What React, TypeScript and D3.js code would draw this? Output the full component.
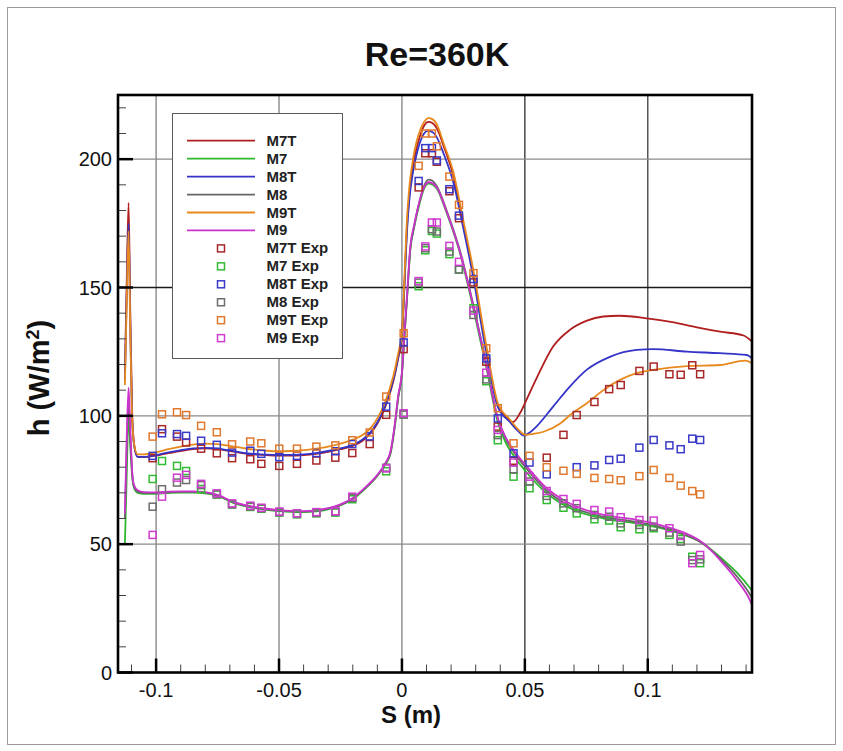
import React from "react";
import * as d3 from "d3";

type P = [number, number];

// ---------- computed curves (S in m, h in W/m^2) ----------
const M7T_LINE: P[] = [
  [-0.1127, 117], [-0.112, 150], [-0.1112, 183], [-0.1105, 140], [-0.1097, 100], [-0.1088, 88], [-0.1075, 84], [-0.105, 84],
  [-0.1, 84.5], [-0.095, 85.5], [-0.09, 86.3], [-0.085, 87], [-0.08, 87.3], [-0.075, 87], [-0.07, 86.3], [-0.065, 85.5],
  [-0.06, 85], [-0.055, 84.7], [-0.05, 84.5], [-0.045, 84.5], [-0.04, 84.7], [-0.035, 85.2], [-0.03, 86], [-0.025, 87],
  [-0.02, 88.3], [-0.016, 90.3], [-0.0125, 93.5], [-0.01, 97], [-0.0068, 103.5], [-0.0035, 113.5], [-0.0015, 122.5], [0, 130.5],
  [0.001, 151], [0.002, 173], [0.003, 186], [0.0045, 197.5], [0.006, 204.5], [0.0075, 209.5], [0.009, 213], [0.0108, 214.5],
  [0.0125, 214], [0.0142, 212], [0.017, 205], [0.0209, 193.5], [0.025, 174.5], [0.0291, 155], [0.0343, 126], [0.039, 104],
  [0.0425, 99.5], [0.0452, 97.6], [0.048, 101], [0.0515, 108], [0.0547, 114.5], [0.0615, 127], [0.0683, 133.5], [0.075, 137],
  [0.0819, 138.7], [0.0886, 139], [0.0996, 138], [0.11, 136.5], [0.12, 134.5], [0.1294, 132.8], [0.139, 131.3], [0.1424, 128.9],
];
const M7_LINE: P[] = [
  [-0.1127, 50], [-0.112, 75], [-0.1112, 100], [-0.1105, 88], [-0.1097, 76], [-0.109, 72], [-0.1075, 70], [-0.105, 69.6],
  [-0.1, 69.6], [-0.095, 69.9], [-0.09, 70.1], [-0.085, 70.1], [-0.08, 69.8], [-0.075, 68.8], [-0.0686, 66.1], [-0.0617, 64.4],
  [-0.055, 63.4], [-0.05, 62.9], [-0.045, 62.6], [-0.04, 62.5], [-0.035, 62.8], [-0.03, 63.6], [-0.025, 65.1], [-0.02, 67.6],
  [-0.015, 71.6], [-0.01, 76.6], [-0.0068, 81], [-0.0047, 85], [-0.003, 95], [-0.0015, 107], [0, 116], [0.001, 130.5],
  [0.002, 144.5], [0.0034, 164.5], [0.005, 173.5], [0.0074, 183.5], [0.009, 188.5], [0.0108, 190.5], [0.0125, 190], [0.0142, 188.5],
  [0.018, 179.5], [0.0237, 163], [0.0291, 141.5], [0.0345, 118], [0.039, 97.5], [0.042, 90], [0.0454, 84.5], [0.0502, 78.5],
  [0.0589, 69.8], [0.0657, 65.4], [0.0711, 62.9], [0.0822, 60], [0.0957, 58], [0.1024, 56.8], [0.1119, 54.5], [0.1227, 50.2],
  [0.1294, 45], [0.1362, 39], [0.1415, 33], [0.1424, 31.8],
];
const M8T_LINE: P[] = [
  [-0.1127, 114], [-0.112, 145], [-0.1112, 175], [-0.1105, 135], [-0.1097, 98], [-0.1088, 87.5], [-0.1075, 84], [-0.105, 84],
  [-0.1, 84.7], [-0.095, 85.8], [-0.09, 86.6], [-0.085, 87.3], [-0.08, 87.5], [-0.075, 87.2], [-0.07, 86.5], [-0.065, 85.7],
  [-0.06, 85.2], [-0.055, 84.9], [-0.05, 84.8], [-0.045, 84.8], [-0.04, 85], [-0.035, 85.5], [-0.03, 86.3], [-0.025, 87.3],
  [-0.02, 88.7], [-0.016, 90.8], [-0.0125, 94], [-0.01, 97.5], [-0.0068, 104], [-0.0035, 114], [-0.0015, 123], [0, 131],
  [0.001, 150], [0.002, 171], [0.003, 184], [0.0045, 195], [0.006, 202], [0.0075, 207], [0.009, 210], [0.0105, 211],
  [0.0125, 210.5], [0.0142, 208.5], [0.017, 202], [0.0209, 191], [0.025, 173], [0.0291, 153.5], [0.0343, 124.5], [0.039, 103.5],
  [0.044, 97.5], [0.047, 94.3], [0.0495, 92.3], [0.052, 93.5], [0.0547, 95.8], [0.0615, 103.6], [0.0683, 111.4], [0.0751, 117.9],
  [0.0846, 123], [0.0955, 125.7], [0.1023, 126], [0.116, 125], [0.1294, 124.4], [0.1403, 123.7], [0.1424, 122.4],
];
const M8_LINE: P[] = [
  [-0.1127, 60], [-0.112, 86], [-0.1112, 106], [-0.1105, 92], [-0.1097, 77], [-0.109, 72.5], [-0.1075, 70.5], [-0.105, 70],
  [-0.1, 69.9], [-0.095, 70.2], [-0.09, 70.4], [-0.085, 70.4], [-0.08, 70.1], [-0.075, 69], [-0.0686, 66.3], [-0.0617, 64.6],
  [-0.055, 63.6], [-0.05, 63.1], [-0.045, 62.8], [-0.04, 62.7], [-0.035, 63], [-0.03, 63.8], [-0.025, 65.3], [-0.02, 67.8],
  [-0.015, 71.8], [-0.01, 76.8], [-0.0068, 81.3], [-0.0047, 85.5], [-0.003, 95.5], [-0.0015, 107.5], [0, 116.5], [0.001, 131],
  [0.002, 145], [0.0034, 165], [0.005, 174], [0.0074, 184.5], [0.009, 189.5], [0.0108, 192], [0.0125, 191.5], [0.0142, 189.5],
  [0.018, 180.5], [0.0237, 164], [0.0291, 143], [0.0345, 119.5], [0.039, 99], [0.042, 91.5], [0.0454, 86], [0.0502, 80],
  [0.0589, 70.8], [0.0657, 66.2], [0.0711, 63.7], [0.0822, 60.6], [0.0957, 58.6], [0.1024, 57.3], [0.1119, 54.8], [0.1227, 50],
  [0.1294, 44.5], [0.1362, 37.5], [0.1415, 30.5], [0.1424, 29],
];
const M9T_LINE: P[] = [
  [-0.1127, 112], [-0.112, 142], [-0.1112, 172], [-0.1105, 133], [-0.1097, 98], [-0.1088, 88], [-0.1075, 85], [-0.105, 85],
  [-0.1, 85.8], [-0.095, 87], [-0.09, 88], [-0.085, 88.8], [-0.08, 89.2], [-0.075, 89], [-0.07, 88.3], [-0.065, 87.5],
  [-0.06, 86.8], [-0.055, 86.4], [-0.05, 86.2], [-0.045, 86.3], [-0.04, 86.6], [-0.035, 87.2], [-0.03, 88], [-0.025, 89.2],
  [-0.02, 90.7], [-0.016, 92.5], [-0.0125, 95.5], [-0.01, 99], [-0.0068, 105.5], [-0.0035, 115.5], [-0.0015, 124.5], [0, 132],
  [0.001, 153], [0.002, 176], [0.003, 189], [0.0045, 200], [0.006, 207], [0.0075, 211.5], [0.009, 214.5], [0.0108, 216],
  [0.0125, 215.5], [0.0142, 213.5], [0.017, 206], [0.0209, 195], [0.025, 176], [0.0291, 156.5], [0.0343, 127.5], [0.039, 105],
  [0.044, 98.5], [0.047, 95], [0.0501, 92.6], [0.0535, 93], [0.0576, 93.8], [0.0644, 97], [0.0684, 100.3], [0.0752, 104.9],
  [0.0819, 110], [0.0887, 114], [0.0955, 116.6], [0.1023, 117.9], [0.116, 119.4], [0.1294, 119.8], [0.1396, 121.5], [0.1424, 120.5],
];
const M9_LINE: P[] = [
  [-0.1127, 62], [-0.112, 90], [-0.1112, 111], [-0.1105, 95], [-0.1097, 78], [-0.109, 73], [-0.1075, 71], [-0.105, 70.3],
  [-0.1, 70.2], [-0.095, 70.5], [-0.09, 70.6], [-0.085, 70.6], [-0.08, 70.3], [-0.075, 69.2], [-0.0686, 66.5], [-0.0617, 64.8],
  [-0.055, 63.8], [-0.05, 63.3], [-0.045, 63], [-0.04, 62.9], [-0.035, 63.2], [-0.03, 64], [-0.025, 65.5], [-0.02, 68],
  [-0.015, 72], [-0.01, 77], [-0.0068, 81.5], [-0.0047, 86], [-0.003, 96], [-0.0015, 108], [0, 117], [0.001, 132],
  [0.002, 146], [0.0034, 166], [0.005, 174.5], [0.0074, 184.5], [0.009, 189], [0.0108, 191], [0.0125, 190.5], [0.0142, 189],
  [0.018, 180], [0.0237, 163.5], [0.0291, 142.5], [0.0345, 119], [0.039, 99], [0.042, 92], [0.0454, 86.7], [0.0502, 81],
  [0.0589, 71.8], [0.0657, 67.2], [0.0711, 64.6], [0.0822, 61.4], [0.0957, 59.4], [0.1024, 58.1], [0.1119, 55.5], [0.1227, 50.3],
  [0.1294, 43.8], [0.1362, 36], [0.1415, 28.3], [0.1424, 26.3],
];

// ---------- experimental points ----------
const M7T_EXP: P[] = [
  [-0.1014, 83.5], [-0.0976, 94.8], [-0.0915, 91.9], [-0.0878, 89.6], [-0.0817, 87.2], [-0.0753, 85.4], [-0.0691, 83.5], [-0.0617, 83.1],
  [-0.0572, 81.3], [-0.0499, 80.5], [-0.0427, 81.3], [-0.0348, 82.6], [-0.0271, 83.7], [-0.0202, 85.5], [-0.0131, 89], [-0.0064, 100.4],
  [0.0007, 126], [0.0068, 189], [0.0095, 202.3], [0.0122, 202.3], [0.0142, 199], [0.0193, 187.5], [0.0232, 177], [0.0291, 152],
  [0.0343, 121.1], [0.039, 95.8], [0.0454, 82.5], [0.0589, 83.7], [0.0657, 92.6], [0.0711, 100.3], [0.0783, 105.4], [0.0843, 110.4],
  [0.089, 112], [0.0966, 117.5], [0.1024, 119.2], [0.1088, 116.2], [0.1134, 116], [0.1181, 119.7], [0.1213, 116.2],
];
const M7_EXP: P[] = [
  [-0.1014, 75.4], [-0.0976, 82.4], [-0.0915, 80.5], [-0.0878, 78.5], [-0.0817, 71.5], [-0.0753, 69.3], [-0.0691, 65.5], [-0.0617, 64.5],
  [-0.0572, 63.8], [-0.0499, 62.3], [-0.0427, 61.6], [-0.0348, 62], [-0.0271, 62.3], [-0.0202, 67.5], [-0.0064, 78.4],
  [0.0007, 100.5], [0.0068, 150.5], [0.0095, 164.5], [0.0122, 172], [0.0142, 171], [0.0193, 163], [0.0232, 157], [0.0291, 141.9],
  [0.0343, 113.5], [0.039, 90.5], [0.0454, 76.3], [0.0519, 71.8], [0.0589, 67.2], [0.0657, 64.2], [0.0711, 62], [0.0783, 59.7],
  [0.0843, 59.2], [0.089, 56.6], [0.0966, 55.8], [0.1024, 56.2], [0.1088, 53.6], [0.1134, 52], [0.1181, 45.1], [0.1213, 42.6],
];
const M8T_EXP: P[] = [
  [-0.1014, 84.4], [-0.0976, 93.2], [-0.0915, 92.9], [-0.0878, 92.2], [-0.0817, 90.3], [-0.0753, 88.7], [-0.0691, 85.7], [-0.0617, 86.4],
  [-0.0572, 85.2], [-0.0499, 83.9], [-0.0427, 84.4], [-0.0348, 85.5], [-0.0271, 86.2], [-0.0202, 89], [-0.0131, 92], [-0.0064, 103.6],
  [0.0007, 128.6], [0.0068, 191.5], [0.0095, 204.3], [0.0122, 204.3], [0.0142, 199.5], [0.0193, 188.3], [0.0232, 178], [0.0291, 153.3],
  [0.0343, 122.4], [0.039, 99], [0.0454, 85.4], [0.0519, 81.8], [0.0589, 77.2], [0.0711, 80], [0.0783, 80.7], [0.0843, 82.8],
  [0.089, 83.3], [0.0966, 87.6], [0.1024, 90.6], [0.1088, 88.5], [0.1134, 87], [0.1181, 91.1], [0.1213, 90.6],
];
const M8_EXP: P[] = [
  [-0.1014, 64.6], [-0.0976, 71.4], [-0.0915, 74], [-0.0878, 75], [-0.0817, 73], [-0.0753, 69.5], [-0.0691, 65.5], [-0.0617, 64.7],
  [-0.0572, 64], [-0.0499, 62.5], [-0.0427, 62], [-0.0348, 62.2], [-0.0271, 62.6], [-0.0202, 68], [-0.0064, 79.8],
  [0.0007, 100.5], [0.0068, 151.9], [0.0095, 165.3], [0.0122, 172.7], [0.0142, 171.8], [0.0193, 164], [0.0232, 157], [0.0291, 139.3],
  [0.0343, 114.2], [0.039, 92.5], [0.0454, 79.2], [0.0519, 74.4], [0.0589, 68.8], [0.0657, 65.9], [0.0711, 64], [0.0783, 61.4],
  [0.0843, 60.7], [0.089, 58.1], [0.0966, 57.5], [0.1024, 56.8], [0.1088, 54.5], [0.1134, 51], [0.1181, 43.8], [0.1213, 44.1],
];
const M9T_EXP: P[] = [
  [-0.1014, 91.9], [-0.0976, 100.6], [-0.0915, 101.4], [-0.0878, 100.3], [-0.0817, 96.1], [-0.0753, 93.6], [-0.0691, 88.9], [-0.0617, 90],
  [-0.0572, 89.3], [-0.0499, 87.2], [-0.0427, 87.2], [-0.0348, 88], [-0.0271, 88.5], [-0.0202, 90.5], [-0.0131, 93.5], [-0.0064, 107.5],
  [0.0007, 132.2], [0.0068, 197.4], [0.0095, 210], [0.0122, 210], [0.0142, 205], [0.0193, 193.2], [0.0232, 182.2], [0.0291, 155.6],
  [0.0343, 126.3], [0.039, 103], [0.0454, 89.3], [0.0519, 84.4], [0.0589, 80], [0.0657, 78.6], [0.0711, 77.4], [0.0783, 75.8],
  [0.0843, 75.4], [0.089, 74.9], [0.0966, 76.5], [0.1024, 78.9], [0.1088, 75.8], [0.1134, 72.8], [0.1181, 70.7], [0.1213, 69.4],
];
const M9_EXP: P[] = [
  [-0.1014, 53.6], [-0.0976, 68.5], [-0.0915, 75.9], [-0.0878, 77], [-0.0817, 73.5], [-0.0753, 69.8], [-0.0691, 65.9], [-0.0617, 65],
  [-0.0572, 64.2], [-0.0499, 62.7], [-0.0427, 62], [-0.0348, 62.5], [-0.0271, 62.8], [-0.0202, 68.5], [-0.0064, 79.5],
  [0.0007, 101], [0.0068, 152.5], [0.0095, 166], [0.0122, 175.3], [0.0142, 175.3], [0.0193, 166.2], [0.0232, 160], [0.0291, 141],
  [0.0343, 116.8], [0.039, 94.5], [0.0454, 81.8], [0.0519, 76.3], [0.0589, 70.7], [0.0657, 67.6], [0.0711, 65.7], [0.0783, 63.3],
  [0.0843, 62.7], [0.089, 60.5], [0.0966, 59.4], [0.1024, 59.2], [0.1088, 56.2], [0.1134, 53.2], [0.1181, 42.6], [0.1213, 45.8],
];

const LINE_NAMES = ["M7T", "M7", "M8T", "M8", "M9T", "M9"];
const LINE_COLORS = ["#B01E1E", "#2EB82E", "#3434C8", "#666666", "#E8891E", "#CC33CC"];
const LINES = [M7T_LINE, M7_LINE, M8T_LINE, M8_LINE, M9T_LINE, M9_LINE];

const EXP_NAMES = ["M7T Exp", "M7 Exp", "M8T Exp", "M8 Exp", "M9T Exp", "M9 Exp"];
const EXP_COLORS = ["#A82828", "#33BB33", "#3A3AC8", "#6E6E6E", "#E0782E", "#D03CD0"];
const EXPS = [M7T_EXP, M7_EXP, M8T_EXP, M8_EXP, M9T_EXP, M9_EXP];

const X_TICKS = [-0.1, -0.05, 0, 0.05, 0.1];
const X_TICK_LABELS = ["-0.1", "-0.05", "0", "0.05", "0.1"];
const Y_TICKS = [0, 50, 100, 150, 200];
const X_GRID_COLORS = ["#8a8a8a", "#8a8a8a", "#8a8a8a", "#3a3a3a", "#4a4a4a"];
const Y_GRID_COLORS = ["#000", "#8a8a8a", "#8a8a8a", "#1a1a1a", "#8a8a8a"];

const W = 843;
const H = 751;
const L = 118, R = 752, T = 95, B = 672.5;

export default function App() {
  const x = d3.scaleLinear().domain([-0.1155, 0.1424]).range([L, R]);
  const y = d3.scaleLinear().domain([0, 225]).range([B, T]);
  const line = d3
    .line<P>()
    .x((d) => x(d[0]))
    .y((d) => y(d[1]))
    .curve(d3.curveMonotoneX);

  const xMinor = d3.range(-11, 15).map((i) => i / 100).filter((v) => !X_TICKS.some((t) => Math.abs(t - v) < 1e-9));
  const yMinor = d3.range(0, 23).map((i) => i * 10).filter((v) => v % 50 !== 0);

  const font = "'Liberation Sans', Arial, Helvetica, sans-serif";
  const ms = 7;

  const legX = 172.5, legY = 113.5, legW = 170, legH = 245;
  const rowY = (i: number) => 140.7 + i * 17.95;

  return (
    <svg width={W} height={H} style={{ position: "absolute", left: 0, top: 0, background: "#fff" }} fontFamily={font}>
      <rect x={0} y={0} width={W} height={H} fill="#fff" />
      <rect x={7.5} y={7.5} width={828} height={737} fill="none" stroke="#9a9a9a" strokeWidth={1} />
      <text x={437} y={66} textAnchor="middle" fontSize={34} fontWeight="bold" fill="#111">Re=360K</text>

      <defs>
        <clipPath id="plot">
          <rect x={L} y={T} width={R - L} height={B - T} />
        </clipPath>
      </defs>

      {/* grid */}
      {X_TICKS.map((t, i) => (
        <line key={"gx" + t} x1={x(t)} x2={x(t)} y1={T} y2={B} stroke={X_GRID_COLORS[i]} strokeWidth={1.4} />
      ))}
      {Y_TICKS.map((t, i) => (t > 0 ? (
        <line key={"gy" + t} x1={L} x2={R} y1={y(t)} y2={y(t)} stroke={Y_GRID_COLORS[i]} strokeWidth={1.4} />
      ) : null))}

      {/* legend box */}
      <rect x={legX} y={legY} width={legW} height={legH} fill="#fff" stroke="#5a5a5a" strokeWidth={1} />

      {/* lines */}
      <g clipPath="url(#plot)">
        {LINES.map((data, i) => (
          <path key={LINE_NAMES[i]} d={line(data) || ""} fill="none" stroke={LINE_COLORS[i]} strokeWidth={1.8} />
        ))}
        {EXPS.map((data, i) => (
          <g key={EXP_NAMES[i]}>
            {data.map((d, j) => (
              <rect key={j} x={x(d[0]) - ms / 2} y={y(d[1]) - ms / 2} width={ms} height={ms} fill="none" stroke={EXP_COLORS[i]} strokeWidth={1.5} />
            ))}
          </g>
        ))}
      </g>

      {/* legend entries */}
      {LINE_NAMES.map((n, i) => (
        <g key={"ll" + n}>
          <line x1={187} x2={255} y1={rowY(i)} y2={rowY(i)} stroke={LINE_COLORS[i]} strokeWidth={1.8} />
          <text x={266.5} y={rowY(i) + 5} fontSize={15} fontWeight="bold" fill="#222">{n}</text>
        </g>
      ))}
      {EXP_NAMES.map((n, i) => (
        <g key={"le" + n}>
          <rect x={221 - ms / 2} y={rowY(i + 6) - ms / 2} width={ms} height={ms} fill="none" stroke={EXP_COLORS[i]} strokeWidth={1.5} />
          <text x={266.5} y={rowY(i + 6) + 5} fontSize={15} fontWeight="bold" fill="#222">{n}</text>
        </g>
      ))}

      {/* ticks */}
      {xMinor.map((t) => (
        <line key={"xm" + t} x1={x(t)} x2={x(t)} y1={B} y2={B - 8} stroke="#444" strokeWidth={1} />
      ))}
      {X_TICKS.map((t) => (
        <line key={"xM" + t} x1={x(t)} x2={x(t)} y1={B} y2={B - 14} stroke="#000" strokeWidth={2.5} />
      ))}
      {yMinor.map((t) => (
        <line key={"ym" + t} x1={L} x2={L + 8} y1={y(t)} y2={y(t)} stroke="#444" strokeWidth={1} />
      ))}
      {Y_TICKS.map((t) => (
        <line key={"yM" + t} x1={L} x2={L + 15} y1={y(t)} y2={y(t)} stroke="#000" strokeWidth={2.5} />
      ))}

      {/* frame */}
      <rect x={L} y={T} width={R - L} height={B - T} fill="none" stroke="#000" strokeWidth={2.6} />

      {/* tick labels */}
      {X_TICKS.map((t, i) => (
        <text key={"xl" + t} x={x(t)} y={697} textAnchor="middle" fontSize={20} fill="#111">{X_TICK_LABELS[i]}</text>
      ))}
      {Y_TICKS.map((t) => (
        <text key={"yl" + t} x={112} y={y(t) + 7} textAnchor="end" fontSize={20} fill="#111">{t}</text>
      ))}

      {/* axis titles */}
      <text x={411} y={723} textAnchor="middle" fontSize={24} fontWeight="bold" fill="#111">S (m)</text>
      <text transform="translate(49,378) rotate(-90)" textAnchor="middle" fontSize={29} fontWeight="bold" fill="#111">
        h (W/m<tspan dy={-10} fontSize={18}>2</tspan><tspan dy={10}>)</tspan>
      </text>
    </svg>
  );
}
